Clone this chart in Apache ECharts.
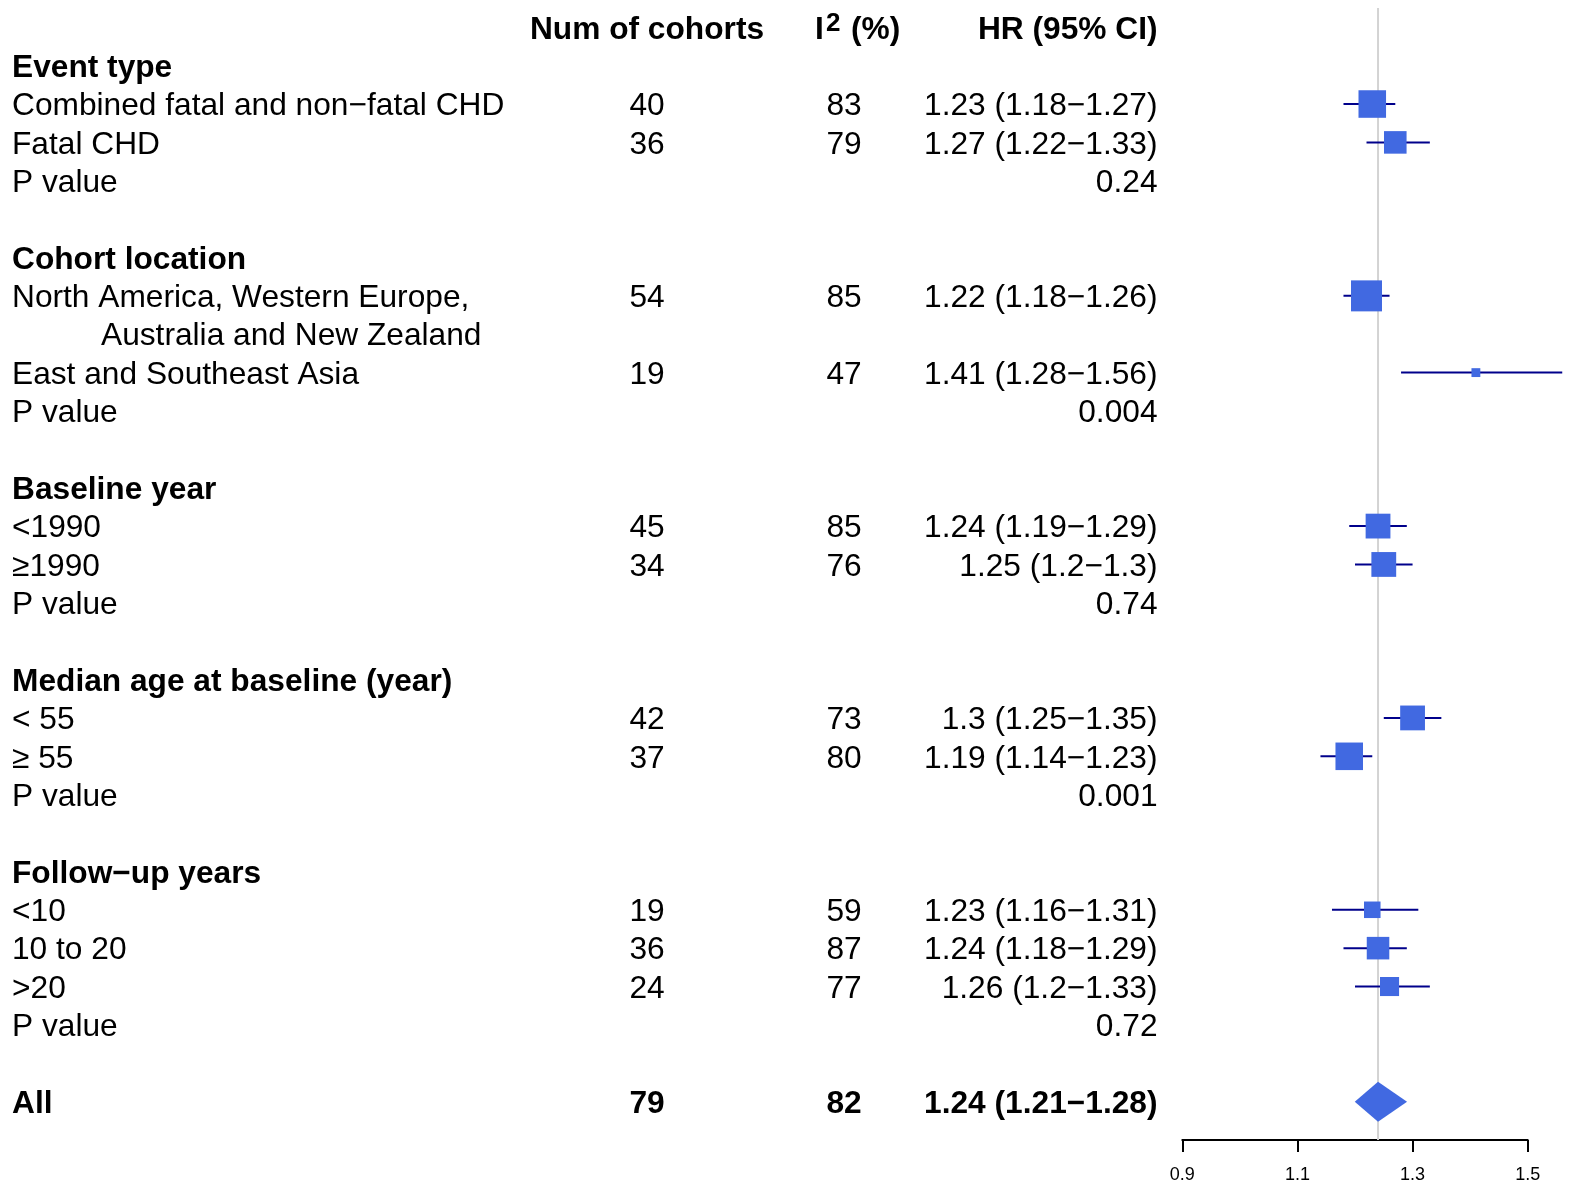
<!DOCTYPE html>
<html>
<head>
<meta charset="utf-8">
<script src="https://cdn.jsdelivr.net/npm/echarts@6/dist/echarts.min.js"></script>
<style>
html,body{margin:0;padding:0;background:#ffffff;}
#chart{width:1570px;height:1185px;}
</style>
</head>
<body>
<div id="chart"></div>
<script>
// ---------------- DATA ----------------
const headerLabels = ["Num of cohorts", "I", "2", "(%)", "HR (95% CI)"];

const rowLabels = [
  "",
  "Event type",
  "Combined fatal and non\u2212fatal CHD",
  "Fatal CHD",
  "P value",
  "",
  "Cohort location",
  "North America, Western Europe,",
  "Australia and New Zealand",
  "East and Southeast Asia",
  "P value",
  "",
  "Baseline year",
  "<1990",
  "\u22651990",
  "P value",
  "",
  "Median age at baseline (year)",
  "< 55",
  "\u2265 55",
  "P value",
  "",
  "Follow\u2212up years",
  "<10",
  "10 to 20",
  ">20",
  "P value",
  "",
  "All"
];
// 1 = bold heading row, 2 = summary row, 3 = continuation (indented) line
const rowKind = [0,1,0,0,0,0,1,0,3,0,0,0,1,0,0,0,0,1,0,0,0,0,1,0,0,0,0,0,2];

const cohortCounts = [null,null,40,36,null,null,null,54,null,19,null,null,null,45,34,null,null,null,42,37,null,null,null,19,36,24,null,null,79];
const i2Values     = [null,null,83,79,null,null,null,85,null,47,null,null,null,85,76,null,null,null,73,80,null,null,null,59,87,77,null,null,82];
const hrEst        = [null,null,1.23,1.27,null,null,null,1.22,null,1.41,null,null,null,1.24,1.25,null,null,null,1.3,1.19,null,null,null,1.23,1.24,1.26,null,null,1.24];
const hrLower      = [null,null,1.18,1.22,null,null,null,1.18,null,1.28,null,null,null,1.19,1.2,null,null,null,1.25,1.14,null,null,null,1.16,1.18,1.2,null,null,1.21];
const hrUpper      = [null,null,1.27,1.33,null,null,null,1.26,null,1.56,null,null,null,1.29,1.3,null,null,null,1.35,1.23,null,null,null,1.31,1.29,1.33,null,null,1.28];
const pValues      = [null,null,null,null,"0.24",null,null,null,null,null,"0.004",null,null,null,null,"0.74",null,null,null,null,"0.001",null,null,null,null,null,"0.72",null,null];

const tickValues = [0.9, 1.1, 1.3, 1.5];
const refValue = 1.24;

// ---------------- LAYOUT / STYLE ----------------
const FONT = '"Liberation Sans", Arial, Helvetica, sans-serif';
const FS = 31.7;
const TEXT_DY = 2.5;
const X_LABEL = 12, X_INDENT = 101, X_COUNT = 647, X_I2 = 844, X_HR = 1157.5;
const Y_MIN = -0.5, Y_MAX = 29.0;
const MAX_BOX = 31;

const nRows = rowLabels.length;
const fmt = v => String(v);

// minimal CI width among non-summary estimates (largest weight)
let minCI = Infinity;
for (let i = 0; i < nRows; i++) {
  if (hrEst[i] != null && rowKind[i] !== 2) minCI = Math.min(minCI, hrUpper[i] - hrLower[i]);
}

const textData = [];
for (let i = 0; i < nRows; i++) textData.push([tickValues[0], i]);

const boxData = [];
const sumData = [];
for (let i = 0; i < nRows; i++) {
  if (hrEst[i] == null) continue;
  const item = [hrEst[i], i, hrLower[i], hrUpper[i]];
  if (rowKind[i] === 2) sumData.push(item); else boxData.push(item);
}

function txt(text, x, y, align, bold, size) {
  return {
    type: 'text',
    style: {
      text: text, x: x, y: y + TEXT_DY, align: align, verticalAlign: 'middle',
      fill: '#000000',
      font: (bold ? 'bold ' : '') + (size || FS) + 'px ' + FONT
    }
  };
}

const chart = echarts.init(document.getElementById('chart'), null, {renderer: 'canvas'});
chart.setOption({
  animation: false,
  backgroundColor: '#ffffff',
  grid: {left: 1182.3, right: 42.3, top: 8.1, bottom: 45, containLabel: false},
  xAxis: {
    type: 'value', min: 0.9, max: 1.5,
    splitLine: {show: false},
    axisLine: {show: true, onZero: false, lineStyle: {color: '#000', width: 2}},
    axisTick: {show: true, customValues: tickValues, length: 12, inside: false, lineStyle: {color: '#000', width: 2}},
    axisLabel: {show: true, customValues: tickValues, margin: 26, color: '#000',
      fontFamily: '"Liberation Sans Narrow", "Liberation Sans", Arial, sans-serif', fontSize: 18,
      formatter: v => v.toFixed(1)}
  },
  yAxis: {type: 'value', inverse: true, min: Y_MIN, max: Y_MAX, show: false},
  series: [
    {
      // reference line
      type: 'custom', z: 1, silent: true,
      data: [[refValue, 0]],
      encode: {x: 0, y: 1},
      renderItem: function (params, api) {
        const top = api.coord([api.value(0), Y_MIN]);
        const bot = api.coord([api.value(0), Y_MAX]);
        return {type: 'line', shape: {x1: top[0], y1: top[1], x2: bot[0], y2: bot[1]},
          style: {stroke: '#d3d3d3', lineWidth: 2}};
      }
    },
    {
      // CI whiskers and boxes
      type: 'custom', z: 3, silent: true,
      data: boxData,
      encode: {x: [0, 2, 3], y: 1},
      renderItem: function (params, api) {
        const est = api.value(0), row = api.value(1), lo = api.value(2), hi = api.value(3);
        const c = api.coord([est, row]), l = api.coord([lo, row]), h = api.coord([hi, row]);
        const side = MAX_BOX * minCI / (hi - lo);
        return {type: 'group', children: [
          {type: 'line', shape: {x1: l[0], y1: l[1], x2: h[0], y2: h[1]}, style: {stroke: '#00008B', lineWidth: 2}},
          {type: 'rect', shape: {x: c[0] - side / 2, y: c[1] - side / 2, width: side, height: side}, style: {fill: '#4169E1'}}
        ]};
      }
    },
    {
      // summary diamond
      type: 'custom', z: 3, silent: true,
      data: sumData,
      encode: {x: [0, 2, 3], y: 1},
      renderItem: function (params, api) {
        const est = api.value(0), row = api.value(1), lo = api.value(2), hi = api.value(3);
        const c = api.coord([est, row]), l = api.coord([lo, row]), h = api.coord([hi, row]);
        const hh = 20, pad = 6;
        return {type: 'polygon', shape: {points: [[l[0] - pad, c[1]], [c[0], c[1] - hh], [h[0] + pad, c[1]], [c[0], c[1] + hh]]},
          style: {fill: '#4169E1'}};
      }
    },
    {
      // table text
      type: 'custom', z: 4, silent: true,
      data: textData,
      encode: {x: 0, y: 1},
      renderItem: function (params, api) {
        const row = api.value(1);
        const y = api.coord([api.value(0), row])[1];
        const kids = [];
        if (row === 0) {
          kids.push(txt(headerLabels[0], X_COUNT, y, 'center', true));
          kids.push(txt(headerLabels[1], 815, y, 'left', true));
          kids.push(txt(headerLabels[2], 826, y - 6, 'left', true, 26));
          kids.push(txt(headerLabels[3], 851, y, 'left', true));
          kids.push(txt(headerLabels[4], X_HR, y, 'right', true));
          return {type: 'group', children: kids};
        }
        const kind = rowKind[row];
        const bold = kind === 1 || kind === 2;
        if (rowLabels[row]) kids.push(txt(rowLabels[row], kind === 3 ? X_INDENT : X_LABEL, y, 'left', bold));
        if (cohortCounts[row] != null) kids.push(txt(String(cohortCounts[row]), X_COUNT, y, 'center', bold));
        if (i2Values[row] != null) kids.push(txt(String(i2Values[row]), X_I2, y, 'center', bold));
        if (hrEst[row] != null) {
          kids.push(txt(fmt(hrEst[row]) + ' (' + fmt(hrLower[row]) + '\u2212' + fmt(hrUpper[row]) + ')', X_HR, y, 'right', bold));
        }
        if (pValues[row] != null) kids.push(txt(pValues[row], X_HR, y, 'right', false));
        return {type: 'group', children: kids};
      }
    }
  ]
});
</script>
</body>
</html>
